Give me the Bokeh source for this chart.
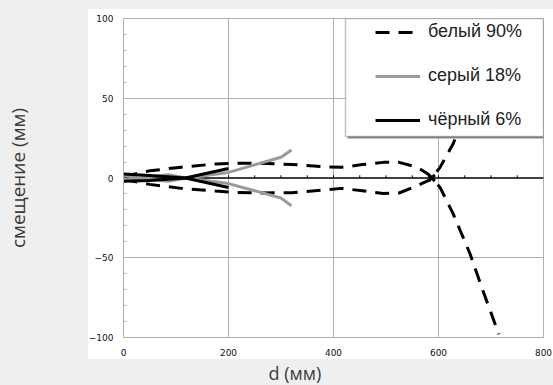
from bokeh.plotting import figure
from bokeh.models import FixedTicker, Span, BoxAnnotation, Legend, LegendItem, Title
from bokeh.embed import file_html
from bokeh.resources import INLINE

# ---- data ----
x_white = [0, 50, 110, 175, 210, 260, 320, 385, 415, 455, 495, 525, 560, 580, 587, 603, 628, 660, 685, 715]
y_white_up = [1, 4.5, 6.8, 8.8, 9.2, 9.2, 8.5, 7.0, 6.7, 8.4, 9.8, 9.8, 6.7, 2.5, 0, 6.7, 21.5, 47.5, 71, 98]
y_white_dn = [-1, -4.0, -6.5, -8.2, -9.0, -9.4, -9.2, -7.5, -6.5, -8.0, -9.7, -9.4, -4.8, -1.7, 0, -5.9, -22.5, -47.5, -71, -98]

x_gray = [0, 40, 85, 120, 200, 300, 320]
y_gray_up = [-1.5, 0.5, 2, 0, 3.5, 13, 17.5]
y_gray_dn = [1.5, -0.5, -2, 0, -3.5, -12.5, -17.5]

x_black = [0, 50, 118, 200]
y_black_a = [2.5, 1.5, 0, 6]
y_black_b = [-2, -1.5, 0, -6]

x_cross = [587]
y_cross = [0]

x_ticks = [0, 200, 400, 600, 800]
y_ticks = [-100, -50, 0, 50, 100]
x_minor = list(range(50, 800, 50))
y_minor = list(range(-100, 101, 10))

names = ["белый 90%", "серый 18%", "чёрный 6%"]
x_title = "d (мм)"
y_title = "смещение (мм)"

GRID = "#b0b0b0"

p = figure(width=553, height=385, x_range=(0, 800), y_range=(-100, 100),
           output_backend="svg", toolbar_location=None,
           min_border_left=123, min_border_right=10, min_border_top=18, min_border_bottom=48)
p.border_fill_alpha = 0
p.background_fill_color = "white"
p.outline_line_color = GRID
p.styles = {"background": "linear-gradient(#ffffff, #ffffff) 88px 9px / 465px 350px no-repeat, #efefef"}

p.xgrid.ticker = FixedTicker(ticks=[200, 400, 600, 800])
p.ygrid.ticker = FixedTicker(ticks=[-100, -50, 50, 100])
p.xgrid.grid_line_color = GRID
p.ygrid.grid_line_color = GRID

ax = p.xaxis[0]
ax.ticker = FixedTicker(ticks=x_ticks, minor_ticks=[])
ax.axis_line_color = GRID
ax.major_tick_in = 0
ax.major_tick_out = 0
ax.minor_tick_in = 0
ax.minor_tick_out = 0
ax.major_label_standoff = 11
ax.major_label_text_font = "DejaVu Sans"
ax.major_label_text_font_size = "9px"
ax.major_label_text_color = "#111111"

ay = p.yaxis[0]
ay.ticker = FixedTicker(ticks=y_ticks, minor_ticks=y_minor)
ay.axis_line_color = GRID
ay.major_tick_in = 0
ay.major_tick_out = 0
ay.minor_tick_in = 3
ay.minor_tick_out = 0
ay.minor_tick_line_color = GRID
ay.major_label_standoff = 10
ay.major_label_text_font = "DejaVu Sans"
ay.major_label_text_font_size = "9px"
ay.major_label_text_color = "#111111"
ay.axis_label = y_title
ay.axis_label_standoff = 55
ay.axis_label_text_font = "Open Sans"
ay.axis_label_text_font_size = "19px"
ay.axis_label_text_font_style = "normal"
ay.axis_label_text_color = "#3a3a3a"

p.add_layout(Title(text=x_title, align="left", offset=145, standoff=0,
                   text_font="Open Sans", text_font_size="18px", text_font_style="normal",
                   text_color="#3a3a3a"), "below")

# zero axis with small ticks
p.add_layout(Span(location=0, dimension="width", line_color="black", line_width=1.3, level="underlay"))
p.segment(x0=x_minor, y0=[0] * len(x_minor), x1=x_minor, y1=[1.7] * len(x_minor),
          line_color="black", line_width=1)

# series
rw = p.line(x_white, y_white_up, line_color="black", line_width=3, line_dash="14 9")
p.line(x_white, y_white_dn, line_color="black", line_width=3, line_dash="14 9")
rg = p.line(x_gray, y_gray_up, line_color="#9a9a9a", line_width=3)
p.line(x_gray, y_gray_dn, line_color="#9a9a9a", line_width=3)
rb = p.line(x_black, y_black_a, line_color="black", line_width=3)
p.line(x_black, y_black_b, line_color="black", line_width=3)
p.scatter(x_cross, y_cross, marker="x", size=9, line_color="black", line_width=3)

# legend frame with shadow
p.add_layout(BoxAnnotation(left=347, right=545, top=20, bottom=138,
                           left_units="canvas", right_units="canvas",
                           top_units="canvas", bottom_units="canvas",
                           fill_color="#8a8a8a", fill_alpha=1, line_alpha=0))
p.add_layout(BoxAnnotation(left=345, right=543, top=18, bottom=136,
                           left_units="canvas", right_units="canvas",
                           top_units="canvas", bottom_units="canvas",
                           fill_color="white", fill_alpha=1, line_color="#333333", line_width=1.5))

legend = Legend(items=[LegendItem(label=names[0], renderers=[rw]),
                       LegendItem(label=names[1], renderers=[rg]),
                       LegendItem(label=names[2], renderers=[rb])],
                location=(246, 201), padding=6, spacing=23, margin=0,
                glyph_width=45, glyph_height=20, label_height=20, label_standoff=8,
                label_text_font="Liberation Sans", label_text_font_size="18px",
                label_text_color="#222222", label_text_baseline="middle",
                background_fill_alpha=0, border_line_alpha=0)
p.add_layout(legend)

open("out.html", "w").write(file_html(p, INLINE))
